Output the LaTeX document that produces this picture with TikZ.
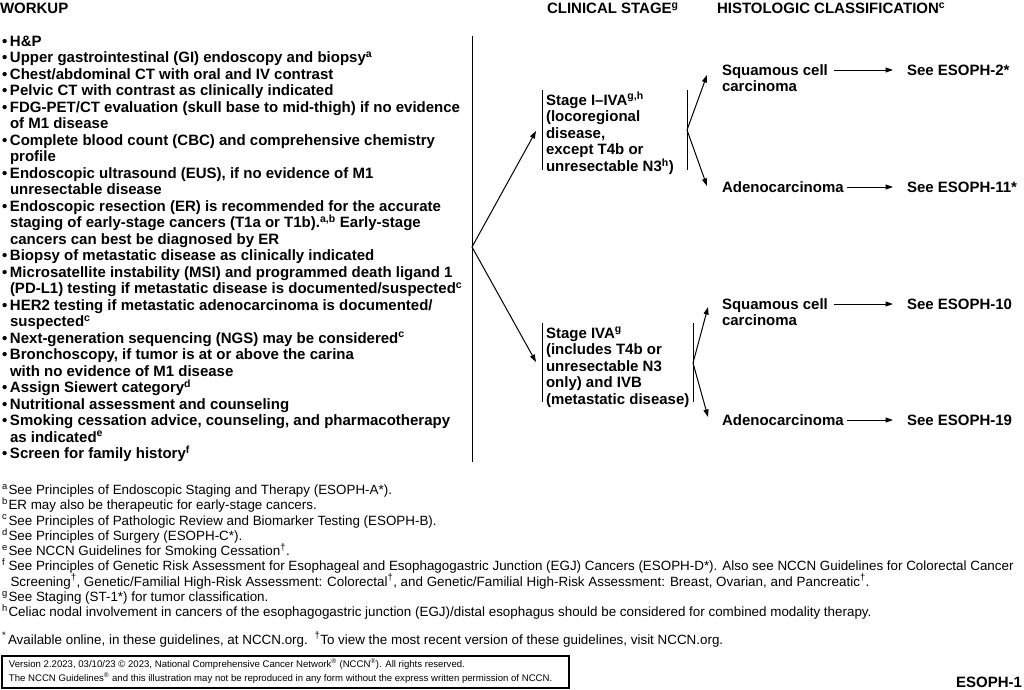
\documentclass[tikz,border=0pt]{standalone}
\usepackage{fontspec}
\setmainfont{Liberation Sans}
\usetikzlibrary{arrows.meta}
\newcommand\bu{\makebox[8pt][l]{•}}
\newcommand\wind{\hspace*{8pt}}
\newcommand\fl[1]{\makebox[6.5pt][l]{\textsuperscript{#1}}}
\newcommand\fnind{\hspace*{8.5pt}}
\newcommand\nols{\lineskiplimit=-50pt\lineskip=0pt}
\begin{document}
\begin{tikzpicture}[x=1pt,y=-1pt,
  every node/.style={inner sep=0pt,outer sep=0pt},
  bold/.style={font=\fontsize{15}{16.5}\selectfont\bfseries\nols,align=left},
  stagetxt/.style={font=\fontsize{15}{16.6}\selectfont\bfseries\nols,align=left},
  fnote/.style={font=\fontsize{13.4}{15.25}\selectfont\nols,align=left},
  boxtxt/.style={font=\fontsize{9.6}{14}\selectfont\nols,align=left},
  bar/.style={line width=1pt},
  arr/.style={line width=1pt,-{Triangle[length=7.5pt,width=5pt]}}]
\useasboundingbox (0,0) rectangle (1024,689);
% headers
\node[bold,anchor=base west] (hwork) at (0,13.5) {WORKUP};
\node[bold,anchor=base west] (hstage) at (547,13.5) {CLINICAL STAGE\textsuperscript{g}};
\node[bold,anchor=base west] (hhist) at (717,13.5) {HISTOLOGIC CLASSIFICATION\textsuperscript{c}};
% workup list (anchor = baseline of last line)
\node[bold,anchor=base west] (workup) at (2,458.5) {%
\bu H\&P\\
\bu Upper gastrointestinal (GI) endoscopy and biopsy\textsuperscript{a}\\
\bu Chest/abdominal CT with oral and IV contrast\\
\bu Pelvic CT with contrast as clinically indicated\\
\bu FDG-PET/CT evaluation (skull base to mid-thigh) if no evidence\\
\wind of M1 disease\\
\bu Complete blood count (CBC) and comprehensive chemistry\\
\wind profile\\
\bu Endoscopic ultrasound (EUS), if no evidence of M1\\
\wind unresectable disease\\
\bu Endoscopic resection (ER) is recommended for the accurate\\
\wind staging of early-stage cancers (T1a or T1b).\textsuperscript{a,b} Early-stage\\
\wind cancers can best be diagnosed by ER\\
\bu Biopsy of metastatic disease as clinically indicated\\
\bu Microsatellite instability (MSI) and programmed death ligand 1\\
\wind (PD-L1) testing if metastatic disease is documented/suspected\textsuperscript{c}\\
\bu HER2 testing if metastatic adenocarcinoma is documented/\\
\wind suspected\textsuperscript{c}\\
\bu Next-generation sequencing (NGS) may be considered\textsuperscript{c}\\
\bu Bronchoscopy, if tumor is at or above the carina\\
\wind with no evidence of M1 disease\\
\bu Assign Siewert category\textsuperscript{d}\\
\bu Nutritional assessment and counseling\\
\bu Smoking cessation advice, counseling, and pharmacotherapy\\
\wind as indicated\textsuperscript{e}\\
\bu Screen for family history\textsuperscript{f}};
\coordinate (wtop) at (472,36);
\coordinate (wbot) at (472,462);
\coordinate (wbranch) at (472,247);
\draw[bar] (wtop) -- (wbot);
% stage nodes
\node[stagetxt,anchor=base west] (st1) at (546,171.4) {Stage I–IVA\textsuperscript{g,h}\\(locoregional\\disease,\\except T4b or\\unresectable N3\textsuperscript{h})};
\node[stagetxt,anchor=base west] (st2) at (546,404.4) {Stage IVA\textsuperscript{g}\\(includes T4b or\\unresectable N3\\only) and IVB\\(metastatic disease)};
\coordinate (st1in) at (536,131);
\coordinate (st2in) at (536,362);
\draw[bar] (542,90) -- (542,170);
\draw[bar] (687,90) -- (687,170);
\draw[bar] (542,323) -- (542,402);
\draw[bar] (693,323) -- (693,402);
\draw[arr] (wbranch) -- (st1in);
\draw[arr] (wbranch) -- (st2in);
\coordinate (st1out) at (687,130);
\coordinate (st2out) at (693,363);
% histology
\node[stagetxt,anchor=base west] (sq1) at (722,91.6) {Squamous cell\\carcinoma};
\node[stagetxt,anchor=base west] (ad1) at (722,192) {Adenocarcinoma};
\node[stagetxt,anchor=base west] (sq2) at (722,325.6) {Squamous cell\\carcinoma};
\node[stagetxt,anchor=base west] (ad2) at (722,425) {Adenocarcinoma};
\coordinate (sq1in) at (707,75);
\coordinate (ad1in) at (707,186);
\coordinate (sq2in) at (708,307);
\coordinate (ad2in) at (708,417);
\draw[arr] (st1out) -- (sq1in);
\draw[arr] (st1out) -- (ad1in);
\draw[arr] (st2out) -- (sq2in);
\draw[arr] (st2out) -- (ad2in);
\node[stagetxt,anchor=base west] (see2) at (907,75) {See ESOPH-2*};
\node[stagetxt,anchor=base west] (see11) at (907,192) {See ESOPH-11*};
\node[stagetxt,anchor=base west] (see10) at (907,309) {See ESOPH-10};
\node[stagetxt,anchor=base west] (see19) at (907,425) {See ESOPH-19};
\coordinate (a1s) at (834,70); \coordinate (a1e) at (893,70);
\coordinate (a2s) at (847,187); \coordinate (a2e) at (893,187);
\coordinate (a3s) at (834,304); \coordinate (a3e) at (893,304);
\coordinate (a4s) at (847,420); \coordinate (a4e) at (893,420);
\draw[arr] (a1s) -- (a1e);
\draw[arr] (a2s) -- (a2e);
\draw[arr] (a3s) -- (a3e);
\draw[arr] (a4s) -- (a4e);
% footnotes (anchor = baseline of last line)
\node[fnote,anchor=base west] (fn) at (2,616.5) {%
\fl{a}See Principles of Endoscopic Staging and Therapy (ESOPH-A*).\\
\fl{b}ER may also be therapeutic for early-stage cancers.\\
\fl{c}See Principles of Pathologic Review and Biomarker Testing (ESOPH-B).\\
\fl{d}See Principles of Surgery (ESOPH-C*).\\
\fl{e}See NCCN Guidelines for Smoking Cessation\textsuperscript{†}.\\
\fl{f}See Principles of Genetic Risk Assessment for Esophageal and Esophagogastric Junction (EGJ) Cancers (ESOPH-D*). Also see NCCN Guidelines for Colorectal Cancer\\
\fnind Screening\textsuperscript{†}, Genetic/Familial High-Risk Assessment: Colorectal\textsuperscript{†}, and Genetic/Familial High-Risk Assessment: Breast, Ovarian, and Pancreatic\textsuperscript{†}.\\
\fl{g}See Staging (ST-1*) for tumor classification.\\
\fl{h}Celiac nodal involvement in cancers of the esophagogastric junction (EGJ)/distal esophagus should be considered for combined modality therapy.};
\node[fnote,anchor=base west] (avail) at (2,644) {\makebox[6pt][l]{\textsuperscript{*}}Available online, in these guidelines, at NCCN.org.\enspace\textsuperscript{†}To view the most recent version of these guidelines, visit NCCN.org.};
% copyright box
\draw[line width=1.3pt] (2,656) rectangle (569,688);
\node[boxtxt,anchor=base west] (copy) at (9,681) {Version 2.2023, 03/10/23 © 2023, National Comprehensive Cancer Network\textsuperscript{®} (NCCN\textsuperscript{®}). All rights reserved.\\The NCCN Guidelines\textsuperscript{®} and this illustration may not be reproduced in any form without the express written permission of NCCN.};
\node[bold,anchor=base east] (pg) at (1022,687) {ESOPH-1};
\end{tikzpicture}
\end{document}
